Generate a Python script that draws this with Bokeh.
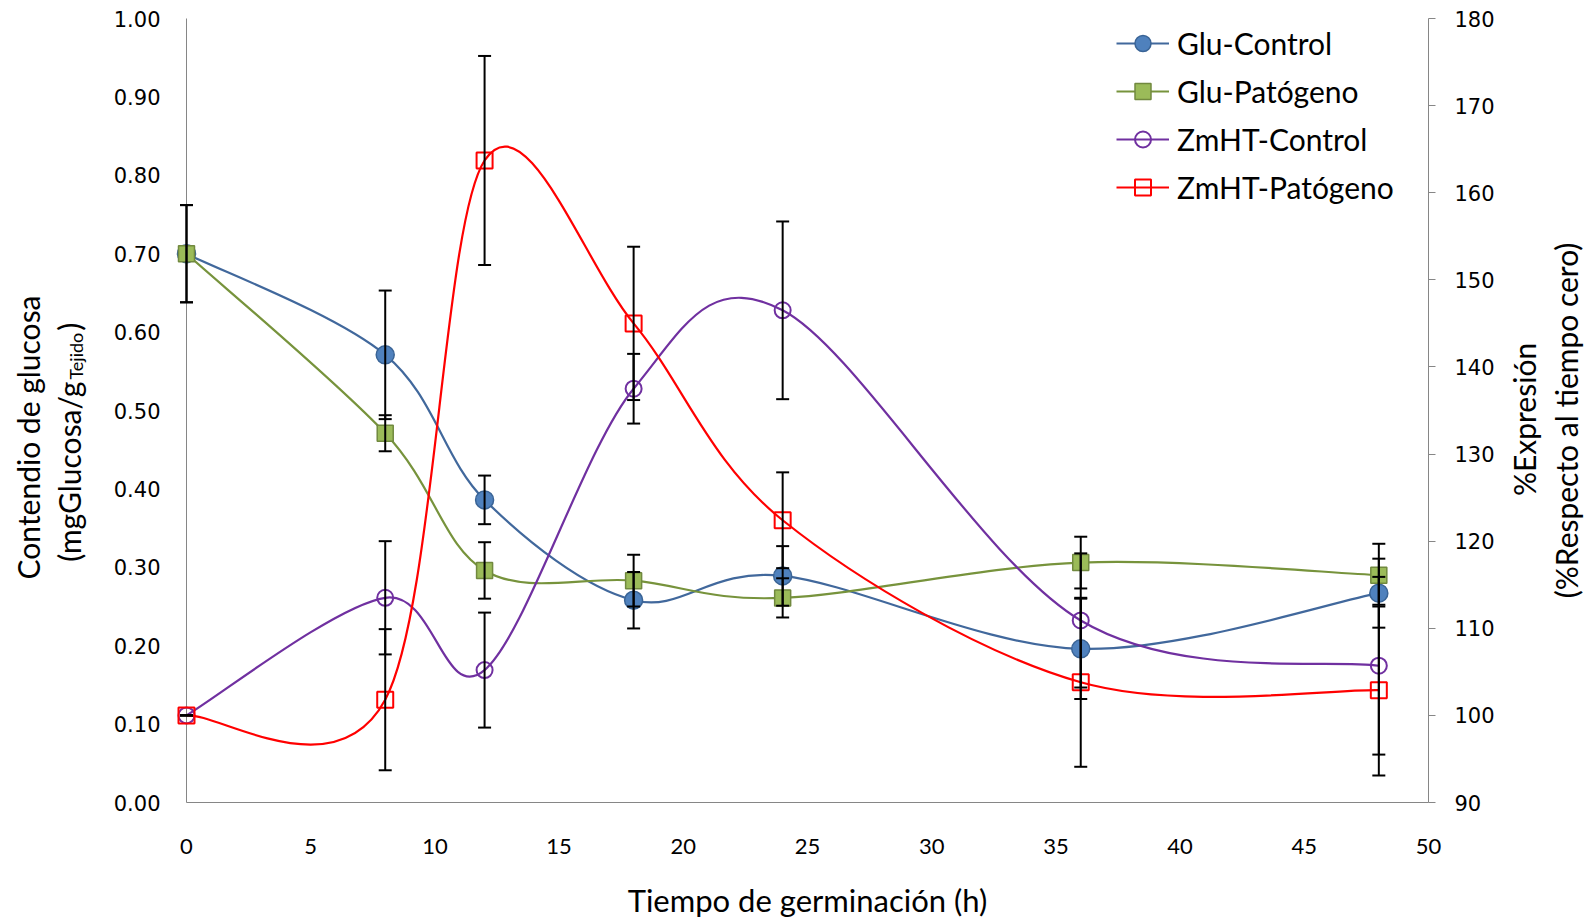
import numpy as np
from bokeh.plotting import figure
from bokeh.layouts import row
from bokeh.models import (Range1d, LinearAxis, FixedTicker, NumeralTickFormatter,
                          Legend, LegendItem)
from bokeh.core.properties import value
from bokeh.embed import file_html
from bokeh.resources import INLINE

# ---------------- data ----------------
hours = [0, 8, 12, 18, 24, 36, 48]

glu_control = [0.700, 0.571, 0.386, 0.258, 0.289, 0.196, 0.267]
glu_control_err = [0.062, 0.082, 0.031, 0.036, 0.038, 0.064, 0.044]

glu_patogeno = [0.700, 0.471, 0.296, 0.283, 0.261, 0.306, 0.290]
glu_patogeno_err = [0.062, 0.023, 0.036, 0.033, 0.025, 0.033, 0.040]

zmht_control = [100.0, 113.5, 105.2, 137.5, 146.5, 110.9, 105.7]
zmht_control_err = [0.0, 6.5, 6.6, 4.0, 10.2, 7.7, 10.2]

zmht_patogeno = [100.0, 101.8, 163.7, 145.0, 122.4, 103.8, 102.9]
zmht_patogeno_err = [0.0, 8.1, 12.0, 8.8, 5.5, 9.7, 9.8]

x_ticks = [0, 5, 10, 15, 20, 25, 30, 35, 40, 45, 50]
left_ticks = [0.0, 0.1, 0.2, 0.3, 0.4, 0.5, 0.6, 0.7, 0.8, 0.9, 1.0]
right_ticks = [90, 100, 110, 120, 130, 140, 150, 160, 170, 180]

x_title = "Tiempo de germinación (h)"
left_title_1 = "Contendio de glucosa"
left_title_2 = "(mgGlucosa/g"
left_title_sub = "Tejido"
left_title_end = ")"
right_title_1 = "%Expresión"
right_title_2 = "(%Respecto al tiempo cero)"


def smooth_segments(xs, ys):
    """Excel-like smoothed line: cubic Bezier control points (Catmull-Rom, 1/6)."""
    x = np.asarray(xs, float)
    y = np.asarray(ys, float)
    n = len(x)
    d = dict(x0=[], y0=[], x1=[], y1=[], cx0=[], cy0=[], cx1=[], cy1=[])
    for i in range(n - 1):
        pv = i - 1 if i > 0 else i
        nx = i + 2 if i + 2 < n else i + 1
        d["x0"].append(x[i]); d["y0"].append(y[i])
        d["x1"].append(x[i + 1]); d["y1"].append(y[i + 1])
        d["cx0"].append(x[i] + (x[i + 1] - x[pv]) / 6.0)
        d["cy0"].append(y[i] + (y[i + 1] - y[pv]) / 6.0)
        d["cx1"].append(x[i + 1] - (x[nx] - x[i]) / 6.0)
        d["cy1"].append(y[i + 1] - (y[nx] - y[i]) / 6.0)
    return d


TITLE_FONT = "Lato"
TICK_FONT = "DejaVu Sans"
AXIS_GRAY = "#868686"
H = 921
TOP = 18
BOTTOM = 117
LEFT_W = 110
RIGHT_W = 87
MAIN_W = 1585 - LEFT_W - RIGHT_W
LEVEL = "overlay"   # draw marks unclipped so markers at x=0 show whole

p = figure(width=MAIN_W, height=H, output_backend="svg", toolbar_location=None,
           x_range=Range1d(0, 50), y_range=Range1d(0, 1),
           min_border_left=71, min_border_right=70,
           min_border_top=TOP, min_border_bottom=BOTTOM)
p.extra_y_ranges = {"pct": Range1d(90, 180)}
p.xgrid.visible = False
p.ygrid.visible = False
p.outline_line_color = None
p.background_fill_color = "white"
p.border_fill_color = "white"

# x axis
xa = p.xaxis[0]
xa.ticker = FixedTicker(ticks=x_ticks)
xa.axis_line_color = AXIS_GRAY
xa.major_tick_line_color = None
xa.minor_tick_line_color = None
xa.major_tick_out = 0
xa.major_tick_in = 0
xa.major_label_standoff = 36
xa.major_label_text_font = TITLE_FONT
xa.major_label_text_font_size = "22px"
xa.major_label_text_color = "black"
xa.axis_label = x_title
xa.axis_label_text_font = TITLE_FONT
xa.axis_label_text_font_size = "31px"
xa.axis_label_text_font_style = "normal"
xa.axis_label_text_color = "black"
xa.axis_label_standoff = 24

# left axis
ya = p.yaxis[0]
ya.ticker = FixedTicker(ticks=left_ticks)
ya.formatter = NumeralTickFormatter(format="0.00")
ya.axis_line_color = AXIS_GRAY
ya.major_tick_line_color = None
ya.minor_tick_line_color = None
ya.major_tick_out = 0
ya.major_tick_in = 0
ya.major_label_standoff = 26
ya.major_label_text_font = TICK_FONT
ya.major_label_text_font_size = "21px"
ya.major_label_text_color = "black"

# right axis
ra = LinearAxis(y_range_name="pct", ticker=FixedTicker(ticks=right_ticks))
ra.axis_line_color = AXIS_GRAY
ra.major_tick_line_color = AXIS_GRAY
ra.minor_tick_line_color = None
ra.major_tick_out = 7
ra.major_tick_in = 0
ra.major_label_standoff = 19
ra.major_label_text_font = TICK_FONT
ra.major_label_text_font_size = "21px"
ra.major_label_text_color = "black"
p.add_layout(ra, "right")

# ---------------- series ----------------
series = [
    dict(name="Glu-Control", y=glu_control, err=glu_control_err, rng="default",
         line="#41689C", marker="circle", size=18, fill="#4F81BD", edge="#3A6496",
         lw=2.2, mlw=1.5),
    dict(name="Glu-Patógeno", y=glu_patogeno, err=glu_patogeno_err, rng="default",
         line="#77933C", marker="square", size=16, fill="#9BBB59", edge="#71893F",
         lw=2.2, mlw=1.5),
    dict(name="ZmHT-Control", y=zmht_control, err=zmht_control_err, rng="pct",
         line="#7030A0", marker="circle", size=16, fill=None, edge="#7030A0",
         lw=2.2, mlw=2),
    dict(name="ZmHT-Patógeno", y=zmht_patogeno, err=zmht_patogeno_err, rng="pct",
         line="#FF0000", marker="square", size=16, fill=None, edge="#FF0000",
         lw=2.2, mlw=2),
]

items = []
for s in series:
    seg = smooth_segments(hours, s["y"])
    br = p.bezier(x0="x0", y0="y0", x1="x1", y1="y1", cx0="cx0", cy0="cy0",
                  cx1="cx1", cy1="cy1", source=seg, line_color=s["line"],
                  line_width=s["lw"], y_range_name=s["rng"], level=LEVEL)
    if s["fill"] is None:
        sr = p.scatter(hours, s["y"], marker=s["marker"], size=s["size"],
                       fill_color="white", fill_alpha=0.0, line_color=s["edge"],
                       line_width=s["mlw"], y_range_name=s["rng"], level=LEVEL)
    else:
        sr = p.scatter(hours, s["y"], marker=s["marker"], size=s["size"],
                       fill_color=s["fill"], line_color=s["edge"],
                       line_width=s["mlw"], y_range_name=s["rng"], level=LEVEL)
    items.append(LegendItem(label=s["name"], renderers=[br, sr]))

# error bars on top
for s in series:
    yv = np.asarray(s["y"], float)
    ev = np.asarray(s["err"], float)
    lo = yv - ev
    hi = yv + ev
    p.segment(x0=hours, y0=lo, x1=hours, y1=hi, line_color="black",
              line_width=2, y_range_name=s["rng"], level=LEVEL)
    p.scatter(hours, hi, marker="dash", size=13, line_color="black",
              line_width=2, y_range_name=s["rng"], level=LEVEL)
    p.scatter(hours, lo, marker="dash", size=13, line_color="black",
              line_width=2, y_range_name=s["rng"], level=LEVEL)

legend = Legend(items=items, location=(930, 595), orientation="vertical",
                glyph_width=53, glyph_height=40, label_height=40, spacing=8,
                padding=5, margin=0, label_standoff=8,
                label_text_font=TITLE_FONT, label_text_font_size="30px",
                label_text_color="black", border_line_color=None,
                background_fill_alpha=0.0)
p.add_layout(legend)


# ---------------- side panels for the two-line rotated axis titles ----------------
# Row layouts align plot frames, so the side panels share the main frame's
# top/bottom borders; their y range is expressed as (H - canvas_y).
def side_panel(w):
    f = figure(width=w, height=H, output_backend="svg", toolbar_location=None,
               x_range=Range1d(0, w), y_range=Range1d(BOTTOM, H - TOP),
               x_axis_location=None, y_axis_location=None,
               min_border_left=0, min_border_right=0,
               min_border_top=TOP, min_border_bottom=BOTTOM)
    f.xgrid.visible = False
    f.ygrid.visible = False
    f.outline_line_color = None
    f.background_fill_color = "white"
    f.border_fill_color = "white"
    return f


def vtext(f, x, y_from_top, text, size="30px", align="center"):
    f.text(x=[x], y=[H - y_from_top], text=[text], angle=np.pi / 2,
           text_align=align, text_baseline="middle",
           text_font=value(TITLE_FONT), text_font_size=value(size),
           text_color="black")


left = side_panel(LEFT_W)
vtext(left, 27, 438, left_title_1)
vtext(left, 68, 382, left_title_2, align="right")
vtext(left, 75, 380, left_title_sub, size="18px", align="left")
vtext(left, 68, 331, left_title_end, align="left")

right = side_panel(RIGHT_W)
vtext(right, 25, 420, right_title_1)
vtext(right, 67, 421, right_title_2)

layout = row(left, p, right, spacing=0)
open("out.html", "w").write(file_html(layout, INLINE))
